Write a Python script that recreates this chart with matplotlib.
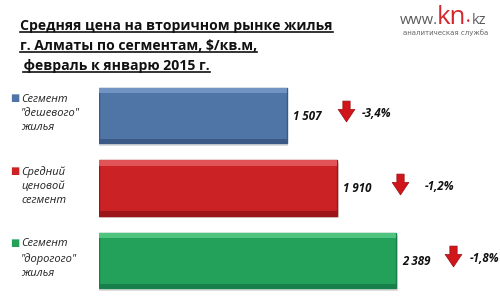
import matplotlib
matplotlib.use("Agg")
import matplotlib.pyplot as plt
from matplotlib.path import Path
from matplotlib.lines import Line2D

# --- данные ---
segments = ['Сегмент\n"дешевого"\nжилья', 'Средний\nценовой\nсегмент', 'Сегмент\n"дорогого"\nжилья']
prices = [1507, 1910, 2389]
price_labels = ['1 507', '1 910', '2 389']
changes = ['-3,4%', '-1,2%', '-1,8%']
colors = ['#4f74a6', '#cb2226', '#23a15b']
edge_colors = ['#3a5a85', '#9c1518', '#17804a']
light_colors = ['#7294c2', '#e05356', '#4fc47f']
# сдвиг стрелки и подписи (px) от конца столбца
arrow_dx = [59, 63, 57]
pct_dx = [75, 88, 73]

W, H = 500, 297
fig = plt.figure(figsize=(W / 100, H / 100), dpi=100)
fig.patch.set_facecolor('white')

# оси под столбцы: ноль по x на 99 px, центр первого столбца на 115 px
px_per_unit = 0.1245
row_px = 72.5
y0_px = 115.5
ax = fig.add_axes([99 / W, 0, (W - 99) / W, 1])
ax.set_xlim(0, (W - 99) / px_per_unit)
ax.set_ylim((H - y0_px) / row_px, -y0_px / row_px)
ax.axis('off')

ypos = list(range(len(prices)))
bh = 0.76

# тень, столбец, фаска
ax.barh([y + 0.04 for y in ypos], [p + 15 for p in prices], height=bh, left=0,
        color='#bdbdbd', alpha=0.5, zorder=1)
ax.barh(ypos, prices, height=bh, color=colors, edgecolor=edge_colors, linewidth=1.0, zorder=2)
ax.barh([y - bh / 2 + 0.035 for y in ypos], prices, height=0.07, color=light_colors, zorder=3)
ax.barh([y + bh / 2 - 0.03 for y in ypos], prices, height=0.06, color=edge_colors, zorder=3)

# стрелка вниз
arrow = Path([(-0.35, 1.0), (0.35, 1.0), (0.35, 0.2), (0.8, 0.2), (0.0, -1.0),
              (-0.8, 0.2), (-0.35, 0.2), (-0.35, 1.0)],
             [Path.MOVETO] + [Path.LINETO] * 6 + [Path.CLOSEPOLY])

lab_font = dict(fontsize=8.3, fontweight='bold', style='italic', family='Open Sans', color='#111111')
for y, p, lab, ch, adx, pdx in zip(ypos, prices, price_labels, changes, arrow_dx, pct_dx):
    ax.annotate(lab, (p, y), xytext=(6, -1), textcoords='offset pixels',
                ha='left', va='center', **lab_font)
    ax.plot([p + adx / px_per_unit], [y - 0.06], marker=arrow, markersize=15,
            color='#d0161b', markeredgecolor='#9a0e10', markeredgewidth=0.5, zorder=4)
    ax.annotate(ch, (p, y), xytext=(pdx, 2), textcoords='offset pixels',
                ha='left', va='center', **lab_font)

# подписи категорий слева
for y, seg, c in zip(ypos, segments, colors):
    yf = 1 - (y0_px + y * row_px) / H
    fig.text(10 / W, yf + 17 / H, '■', color=c, fontsize=7, va='center', ha='left')
    fig.text(21 / W, yf + 2 / H, seg, fontsize=8, style='italic', color='#222222',
             va='center', ha='left', linespacing=1.4, family='Open Sans')

# заголовок с подчёркиванием
title_lines = ['Средняя цена на вторичном рынке жилья',
               'г. Алматы по сегментам, $/кв.м,',
               ' февраль к январю 2015 г.']
title_texts = []
for i, t in enumerate(title_lines):
    tt = fig.text(20 / W, 1 - (26 + i * 20) / H, t, fontsize=10.1, fontweight='bold',
                  family='Open Sans', color='#111111', va='center', ha='left')
    title_texts.append(tt)

# логотип
base = 1 - 24 / H
fig.text(400 / W, base, 'www.', fontsize=10.5, color='#5a5a5a', family='Open Sans',
         va='baseline', ha='left')
fig.text(437 / W, base, 'kn', fontsize=18.5, color='#d4262c', family='Open Sans',
         va='baseline', ha='left')
fig.text(466 / W, base, '•', fontsize=5.5, color='#d4262c', family='DejaVu Sans',
         va='baseline', ha='left')
fig.text(472 / W, base, 'kz', fontsize=10.5, color='#5a5a5a', family='Open Sans',
         va='baseline', ha='left')
fig.text(446 / W, 1 - 33 / H, 'аналитическая служба', fontsize=5, color='#666666',
         family='DejaVu Sans', va='center', ha='center')

fig.canvas.draw()
r = fig.canvas.get_renderer()
for tt in title_texts:
    bb = tt.get_window_extent(r)
    x0 = bb.x0
    if tt.get_text().startswith(' '):
        x0 += 3
    fig.add_artist(Line2D([x0 / W, bb.x1 / W], [(bb.y0 + 1) / H] * 2,
                          transform=fig.transFigure, color='#111111', lw=1.2))

fig.savefig('out.png', dpi=100, facecolor='white')
